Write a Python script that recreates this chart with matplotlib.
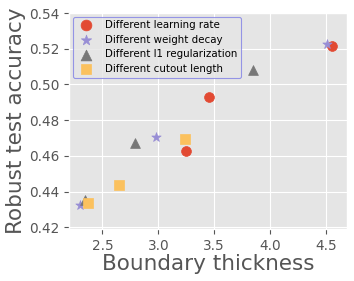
import matplotlib
matplotlib.use("Agg")
import matplotlib.pyplot as plt

plt.style.use("ggplot")

# ---- data ----
lr_x = [4.553, 3.452, 3.244]
lr_y = [0.5217, 0.4931, 0.4628]
wd_x = [4.514, 2.979, 2.297]
wd_y = [0.5224, 0.4705, 0.4327]
l1_x = [3.845, 2.795, 2.342]
l1_y = [0.5079, 0.4673, 0.4355]
co_x = [3.241, 2.652, 2.366]
co_y = [0.4692, 0.4435, 0.4333]

yticks = [0.42, 0.44, 0.46, 0.48, 0.50, 0.52, 0.54]
xticks = [2.5, 3.0, 3.5, 4.0, 4.5]

fig = plt.figure(figsize=(3.54, 2.81), dpi=100)
ax = fig.add_axes([69 / 354, 1 - 229 / 281, (347 - 69) / 354, (229 - 13) / 281])

ax.scatter(lr_x, lr_y, s=50, marker="o", color="#E24A33", label="Different learning rate")
ax.scatter(wd_x, wd_y, s=50, marker="*", color="#988ED5", label="Different weight decay")
ax.scatter(l1_x, l1_y, s=50, marker="^", color="#777777", label="Different l1 regularization")
ax.scatter(co_x, co_y, s=50, marker="s", color="#FBC15E", label="Different cutout length")

ax.set_xlim(2.2, 4.69)
ax.set_ylim(0.419, 0.54)
ax.set_xticks(xticks)
ax.set_yticks(yticks)
ax.set_xticklabels([f"{v:.1f}" for v in xticks])
ax.set_yticklabels([f"{v:.2f}" for v in yticks])
ax.tick_params(labelsize=9.8, colors="#555555")

ax.set_xlabel("Boundary thickness", fontsize=15.5, color="#555555", labelpad=1)
ax.set_ylabel("Robust test accuracy", fontsize=15.5, color="#555555", labelpad=2)

leg = ax.legend(loc="upper left", fontsize=7.4, edgecolor="#8080e6",
                borderaxespad=0.35, handletextpad=0.8, labelspacing=0.45,
                borderpad=0.35, markerscale=1.1)
leg.get_frame().set_linewidth(0.8)

fig.savefig("out.png", dpi=100)
